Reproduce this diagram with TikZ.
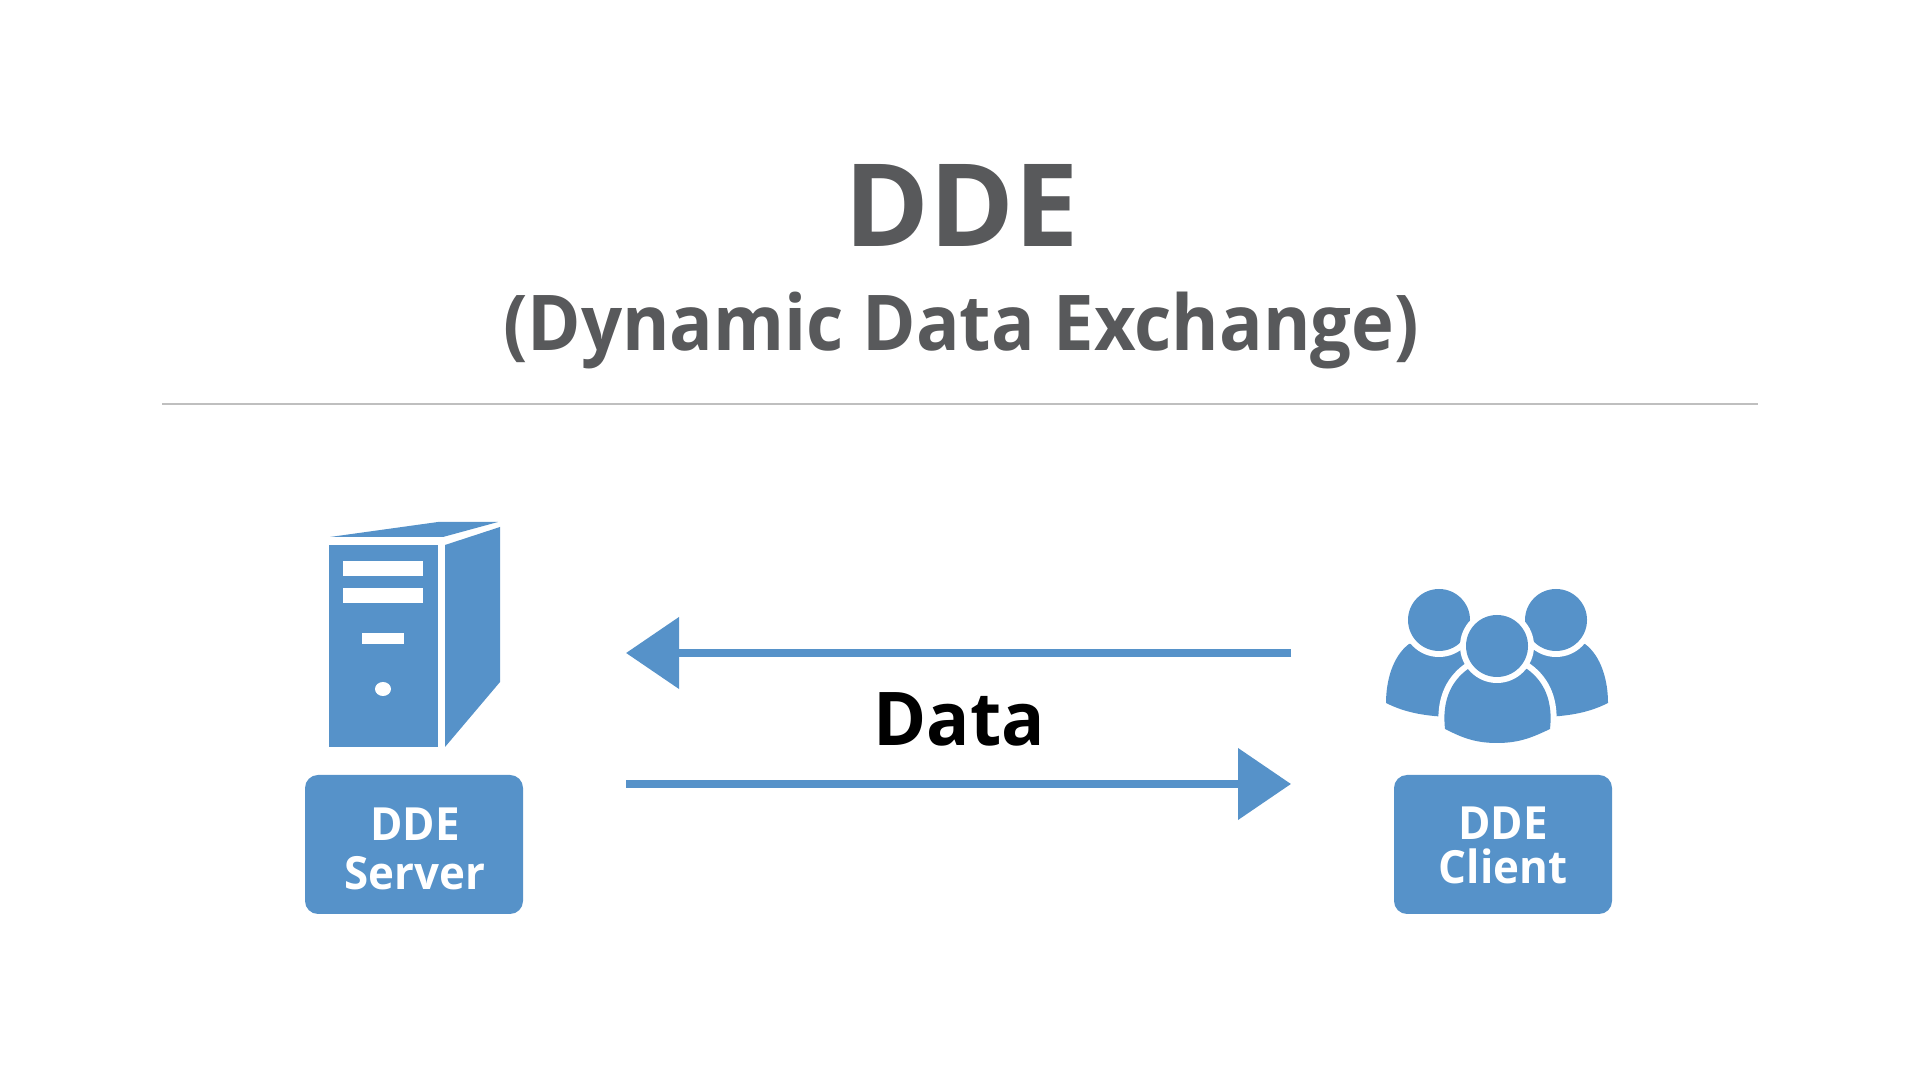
\documentclass[tikz,border=0pt]{standalone}
\usepackage{fontspec}
\setmainfont{Open Sans}
\newfontfamily\subfont[FakeStretch=0.94]{Open Sans}
\newfontfamily\datafont[FakeStretch=0.97]{Open Sans}
\newfontfamily\labelfont[FakeStretch=0.96]{Open Sans}
\usepackage{xcolor}
\usetikzlibrary{arrows.meta}
\definecolor{ddeblue}{HTML}{5692C9}
\definecolor{ddegray}{HTML}{58595B}
\tikzset{
	titletext/.style={anchor=base,text=ddegray,font=\bfseries\fontsize{32.7}{36}\selectfont},
	subtext/.style={anchor=base,text=ddegray,font=\subfont\bfseries\fontsize{21.9}{26}\selectfont},
	datatext/.style={anchor=base,text=black,font=\datafont\bfseries\fontsize{21.1}{26}\selectfont},
	labelbox/.style={fill=ddeblue,rounded corners=0.13cm,minimum width=2.18cm,minimum height=1.39cm,inner sep=0pt},
	labeltext/.style={text=white,inner sep=0pt,align=center,font=\labelfont\bfseries\fontsize{13}{13}\selectfont},
	dataflow/.style={draw=ddeblue,line width=0.08cm,-{Triangle[length=0.53cm,width=0.70cm]}},
	halo/.style={fill=ddeblue,preaction={draw=white,line width=0.12cm}},
	head/.style={circle,halo,minimum size=0.62cm,inner sep=0pt}
}
\begin{document}
\begin{tikzpicture}
	\useasboundingbox (0,0) rectangle (19.2,10.8);

	\node[titletext] (title) at (9.62,8.33) {DDE};
	\node[subtext] (subtitle) at (9.61,7.29) {(Dynamic Data Exchange)};
	\coordinate (ruleL) at (1.62,6.76);
	\coordinate (ruleR) at (17.58,6.76);
	\draw[color=black!25,line width=0.015cm] (ruleL) -- (ruleR);

	% server
	\fill[ddeblue] (3.29,3.33) rectangle (4.38,5.35);
	\fill[white] (3.43,5.04) rectangle (4.23,5.19);
	\fill[white] (3.43,4.77) rectangle (4.23,4.92);
	\fill[white] (3.62,4.36) rectangle (4.04,4.47);
	\fill[white] (3.83,3.91) ellipse (0.08 and 0.07);
	\fill[ddeblue] (4.45,5.35) -- (5.00,5.53) -- (5.00,3.98) -- (4.45,3.33) -- cycle;
	\fill[ddeblue] (3.30,5.43) -- (4.38,5.58) -- (4.98,5.58) -- (4.43,5.43) -- cycle;
	\node[labelbox] (server) at (4.14,2.355) {};
	\node[labeltext] (serverText) at (4.15,2.315) {DDE\\[0.9pt]Server};

	% client
	\fill[ddeblue] (14.09,4.36) .. controls (13.93,4.24) and (13.86,4.00) .. (13.86,3.77)
		.. controls (14.02,3.69) and (14.20,3.64) .. (14.50,3.63) -- (14.80,3.63) -- (14.80,4.30) -- (14.39,4.40) -- cycle;
	\fill[ddeblue] (15.85,4.36) .. controls (16.01,4.24) and (16.08,4.00) .. (16.08,3.77)
		.. controls (15.92,3.69) and (15.74,3.64) .. (15.44,3.63) -- (15.14,3.63) -- (15.14,4.30) -- (15.56,4.40) -- cycle;
	\node[head] (headL) at (14.39,4.60) {};
	\node[head] (headR) at (15.56,4.60) {};
	\path[halo] (14.45,3.51) .. controls (14.42,3.78) and (14.50,3.98) .. (14.68,4.11)
		-- (15.27,4.11) .. controls (15.45,3.98) and (15.53,3.78) .. (15.50,3.51)
		.. controls (15.33,3.43) and (15.20,3.37) .. (14.97,3.37) .. controls (14.74,3.37) and (14.61,3.43) .. (14.45,3.51) -- cycle;
	\node[head] (headM) at (14.97,4.34) {};
	\node[labelbox] (client) at (15.03,2.355) {};
	\node[labeltext] (clientText) at (15.03,2.345) {DDE\\[-0.5pt]Client};

	% data flow
	\coordinate (clientOut) at (12.91,4.27);
	\coordinate (serverIn) at (6.26,4.27);
	\coordinate (serverOut) at (6.26,2.96);
	\coordinate (clientIn) at (12.91,2.96);
	\draw[dataflow] (clientOut) -- (serverIn);
	\draw[dataflow] (serverOut) -- (clientIn);
	\node[datatext] (data) at (9.59,3.34) {Data};
\end{tikzpicture}
\end{document}
